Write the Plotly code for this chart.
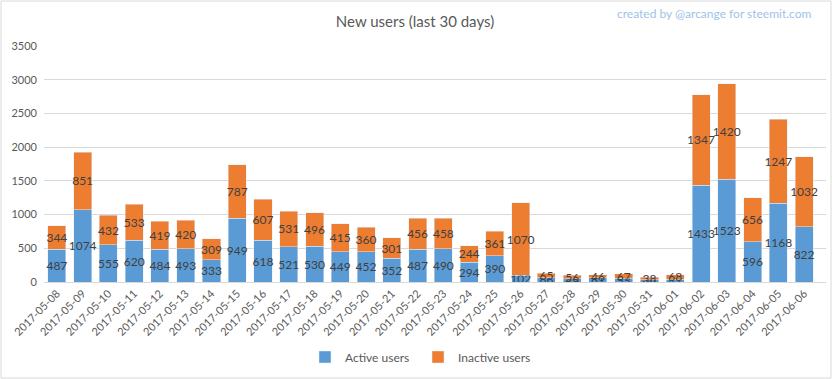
import plotly.graph_objects as go

dates = ["2017-05-08","2017-05-09","2017-05-10","2017-05-11","2017-05-12","2017-05-13","2017-05-14",
         "2017-05-15","2017-05-16","2017-05-17","2017-05-18","2017-05-19","2017-05-20","2017-05-21",
         "2017-05-22","2017-05-23","2017-05-24","2017-05-25","2017-05-26","2017-05-27","2017-05-28",
         "2017-05-29","2017-05-30","2017-05-31","2017-06-01","2017-06-02","2017-06-03","2017-06-04",
         "2017-06-05","2017-06-06"]
active = [487,1074,555,620,484,493,333,949,618,521,530,449,452,352,487,490,294,390,102,66,45,61,53,34,41,1433,1523,596,1168,822]
inactive = [344,851,432,533,419,420,309,787,607,531,496,415,360,301,456,458,244,361,1070,65,56,46,67,38,68,1347,1420,656,1247,1032]

FONT = "Lato, 'Open Sans', sans-serif"
W, H = 832, 379
ML, MR, MT, MB = 44, 6, 46, 97
pw, ph = W - ML - MR, H - MT - MB

fig = go.Figure()
fig.add_trace(go.Bar(x=dates, y=active, name="Active users", marker_color="#5b9bd5",
                     text=active, textposition="inside", insidetextanchor="middle", textangle=0,
                     textfont=dict(color="#404040", size=12, family=FONT)))
fig.add_trace(go.Bar(x=dates, y=inactive, name="Inactive users", marker_color="#ed7d31",
                     text=inactive, textposition="inside", insidetextanchor="middle", textangle=0,
                     textfont=dict(color="#404040", size=12, family=FONT)))

fig.update_layout(
    barmode="stack", bargap=0.3, width=W, height=H,
    margin=dict(l=ML, r=MR, t=MT, b=MB, autoexpand=False),
    paper_bgcolor="white", plot_bgcolor="white",
    font=dict(family=FONT, color="#595959", size=11),
    uniformtext=dict(minsize=12, mode="show"),
    title=dict(text="New users (last 30 days)", x=(415 - ML) / pw, xanchor="center", y=1 - 22 / H, yanchor="middle",
               xref="paper", font=dict(size=15, color="#595959", family=FONT)),
    legend=dict(orientation="h", x=(418 - ML) / pw, xanchor="center", y=-75 / ph, yanchor="middle",
                font=dict(size=12, color="#595959"), traceorder="normal",
                itemwidth=30, entrywidth=68, entrywidthmode="pixels", tracegroupgap=0),
    showlegend=True,
)
fig.update_xaxes(type="category", range=[-0.5, 29.85], tickangle=-45, showgrid=False, showline=True,
                 linecolor="#d9d9d9", ticks="", automargin=False, tickfont=dict(size=11, color="#595959"))
fig.update_yaxes(range=[0, 3500], dtick=500, showgrid=True, gridcolor="#d9d9d9", zeroline=False,
                 ticks="", automargin=False, tickfont=dict(size=11, color="#595959"), ticklabelstandoff=6)

fig.add_annotation(text="created by @arcange for steemit.com", xref="paper", yref="paper",
                   x=(814 - ML) / pw, xanchor="right", y=1 + (MT - 14) / ph, yanchor="middle",
                   showarrow=False, font=dict(size=12, color="#9dc3e6", family=FONT))

fig.add_shape(type="rect", xref="paper", yref="paper",
              x0=-(ML - 1) / pw, x1=1 + (MR - 1) / pw, y0=-(MB - 1) / ph, y1=1 + (MT - 1) / ph,
              line=dict(color="#d9d9d9", width=1), fillcolor="rgba(0,0,0,0)", layer="below")

fig.write_html("out.html", config={"displayModeBar": False},
               post_script="document.body.style.margin='0';document.body.style.overflow='hidden';")
